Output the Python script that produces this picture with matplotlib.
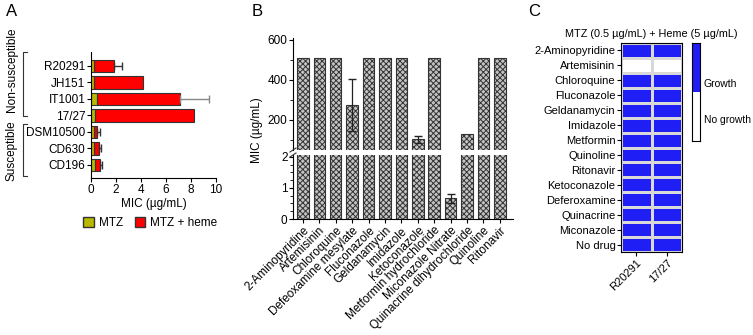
import numpy as np
import matplotlib
matplotlib.use("Agg")
from matplotlib import pyplot as plt
from matplotlib.colors import ListedColormap
from matplotlib.patches import Patch
from matplotlib.ticker import MultipleLocator

plt.rcParams['font.family'] = ['Liberation Sans', 'DejaVu Sans']
plt.rcParams['hatch.color'] = '#8c8c8c'
plt.rcParams['hatch.linewidth'] = 0.7

# panel A data
strains = ["R20291", "JH151", "IT1001", "17/27", "DSM10500", "CD630", "CD196"]
mic_mtz = [0.2, 0.2, 0.45, 0.3, 0.2, 0.25, 0.3]
mic_heme = [1.85, 4.15, 7.1, 8.25, 0.5, 0.62, 0.72]
mic_heme_err = [0.6, 0.0, 2.35, 0.0, 0.2, 0.18, 0.18]

# panel B data
drugs = ["2-Aminopyridine", "Artemisinin", "Chloroquine", "Defeoxamine mesylate",
         "Fluconazole", "Geldanamycin", "Imidazole", "Ketoconazole",
         "Metformin hydrochloride", "Miconazole Nitrate", "Quinacrine dihydrochloride",
         "Quinoline", "Ritonavir"]
drug_mic = [512, 512, 512, 277, 512, 512, 512, 104, 512, 0.67, 128, 512, 512]
drug_err = [0, 0, 0, 130, 0, 0, 0, 18, 0, 0.15, 0, 0, 0]

# panel C data
screen_drugs = ["2-Aminopyridine", "Artemisinin", "Chloroquine", "Fluconazole",
                "Geldanamycin", "Imidazole", "Metformin", "Quinoline", "Ritonavir",
                "Ketoconazole", "Deferoxamine", "Quinacrine", "Miconazole", "No drug"]
screen_strains = ["R20291", "17/27"]
growth_r20291 = [1, 0, 1, 1, 1, 1, 1, 1, 1, 1, 1, 1, 1, 1]
growth_1727 = [1, 0, 1, 1, 1, 1, 1, 1, 1, 1, 1, 1, 1, 1]

W, H = 753, 335
fig = plt.figure(figsize=(W / 100, H / 100), dpi=100)


def fax(x0, y0, x1, y1):
    # axes from pixel box (left, top, right, bottom)
    return fig.add_axes([x0 / W, 1 - y1 / H, (x1 - x0) / W, (y1 - y0) / H])


fs = 8.5

# ---------- panel A ----------
axA = fax(91, 52, 216, 178)
y = np.arange(len(strains))
red_w = np.array(mic_heme) - np.array(mic_mtz)
axA.barh(y, mic_mtz, height=0.75, color='#b8b800', edgecolor='#333333', linewidth=0.8)
axA.barh(y, red_w, left=mic_mtz, height=0.75, color='#ff0000', edgecolor='#333333', linewidth=0.8)
for i in range(len(strains)):
    if mic_heme_err[i] > 0:
        c = '#888888' if strains[i] == "IT1001" else '#333333'
        axA.errorbar(mic_heme[i], y[i], xerr=[[0], [mic_heme_err[i]]], fmt='none',
                     ecolor=c, elinewidth=1.0, capsize=3)
axA.set_ylim(6.8, -0.85)
axA.set_xlim(0, 10)
axA.set_yticks(y)
axA.set_yticklabels(strains, fontsize=fs)
axA.set_xticks(range(0, 11, 2))
axA.tick_params(axis='x', labelsize=fs, length=3, pad=1)
axA.tick_params(axis='y', length=3, pad=1)
axA.spines['top'].set_visible(False)
axA.spines['right'].set_visible(False)
axA.set_xlabel("MIC (µg/mL)", fontsize=fs, labelpad=2)
axA.legend(handles=[Patch(facecolor='#b8b800', edgecolor='#333333', label='MTZ'),
                    Patch(facecolor='#ff0000', edgecolor='#333333', label='MTZ + heme')],
           loc='upper left', bbox_to_anchor=(-0.1, -0.27), ncol=2, frameon=False,
           fontsize=fs, handlelength=0.9, handleheight=0.9, handletextpad=0.4,
           columnspacing=1.0, borderaxespad=0)

# group brackets
for (top, bot, label, ty) in [(52, 116, "Non-susceptible", 70), (124, 176, "Susceptible", 151)]:
    xs = np.array([27, 23, 23, 27]) / W
    ys = 1 - np.array([top, top, bot, bot]) / H
    fig.add_artist(plt.Line2D(xs, ys, color='#333333', linewidth=0.8))
    fig.text(12 / W, 1 - ty / H, label, rotation=90, ha='center', va='center', fontsize=fs)

# ---------- panel B ----------
axBt = fax(293, 38, 513, 150)
axBb = fax(293, 155, 513, 219)
xb = np.arange(len(drugs))
for ax in (axBt, axBb):
    ax.bar(xb, drug_mic, width=0.7, color='#c4c4c4', edgecolor='#333333',
           linewidth=0.8, hatch='xxxxxx')
    ax.spines['top'].set_visible(False)
    ax.spines['right'].set_visible(False)
    ax.set_xlim(-0.6, len(drugs) - 0.2)
    ax.tick_params(labelsize=fs, length=3, pad=1)
    ax.tick_params(which='minor', length=2)
for i in range(len(drugs)):
    if drug_err[i] > 0:
        target = axBb if drug_mic[i] < 2 else axBt
        target.errorbar(xb[i], drug_mic[i], yerr=drug_err[i], fmt='none',
                        ecolor='#222222', elinewidth=0.9, capsize=3)
axBt.set_ylim(50, 610)
axBt.set_yticks([200, 400, 600])
axBt.yaxis.set_minor_locator(MultipleLocator(100))
axBt.spines['bottom'].set_visible(False)
axBt.tick_params(axis='x', bottom=False, labelbottom=False)
axBb.set_ylim(0, 2.06)
axBb.set_yticks([0, 1, 2])
axBb.yaxis.set_minor_locator(MultipleLocator(0.25))
axBb.set_xticks(xb)
axBb.set_xticklabels(drugs, rotation=45, ha='right', rotation_mode='anchor', fontsize=fs)
# break marks
for yy in (150, 155):
    fig.add_artist(plt.Line2D([290 / W, 296 / W], [1 - (yy + 2) / H, 1 - (yy - 2) / H],
                              color='#333333', linewidth=0.8))
fig.text(257 / W, 1 - 130 / H, "MIC (µg/mL)", rotation=90, ha='center', va='center', fontsize=fs)

# ---------- panel C ----------
axC = fax(621, 43, 682, 252)
grid = np.array([growth_r20291, growth_1727]).T
cmap = ListedColormap(['#ffffff', '#1f1ff5'])
axC.pcolormesh(grid, cmap=cmap, vmin=0, vmax=1, edgecolors='#d8d8d8', linewidth=0.8)
axC.set_ylim(len(screen_drugs), 0)
axC.set_xlim(0, 2)
axC.set_yticks(np.arange(len(screen_drugs)) + 0.5)
axC.set_yticklabels(screen_drugs, fontsize=8)
axC.set_xticks([0.5, 1.5])
axC.set_xticklabels(screen_strains, rotation=45, ha='right', rotation_mode='anchor', fontsize=8)
axC.tick_params(length=3, pad=1)
for s in axC.spines.values():
    s.set_linewidth(0.8)
axC.set_title("MTZ (0.5 µg/mL) + Heme (5 µg/mL)", fontsize=7.8, pad=4)

axCb = fax(692, 43, 700, 141)
axCb.pcolormesh(np.array([[0], [1]]), cmap=cmap, vmin=0, vmax=1)
axCb.set_xticks([])
axCb.set_yticks([])
for s in axCb.spines.values():
    s.set_linewidth(0.8)
fig.text(704 / W, 1 - 84 / H, "Growth", fontsize=7.5, va='center')
fig.text(704 / W, 1 - 120 / H, "No growth", fontsize=7.5, va='center')

# panel letters
fig.text(6 / W, 1 - 12 / H, "A", fontsize=12, va='center')
fig.text(252 / W, 1 - 12 / H, "B", fontsize=12, va='center')
fig.text(528 / W, 1 - 12 / H, "C", fontsize=12, va='center')

fig.savefig("out.png", dpi=100)
